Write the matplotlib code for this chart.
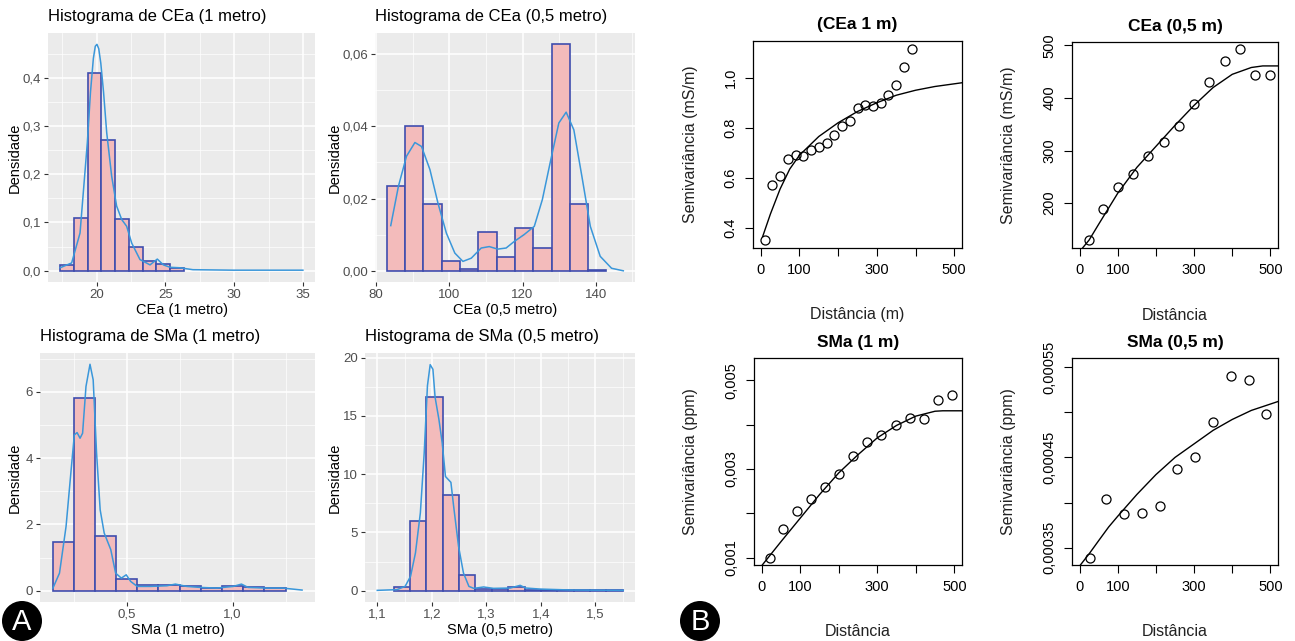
import numpy as np
import matplotlib
matplotlib.use("Agg")
import matplotlib.pyplot as plt
from matplotlib.patches import Circle
from matplotlib.transforms import IdentityTransform

plt.rcParams["font.family"] = ["Liberation Sans", "DejaVu Sans"]

# ---- histogram data (A) ----
cea1_edges = [17.35, 18.35, 19.35, 20.35, 21.35, 22.35, 23.35, 24.35, 25.35, 26.35]
cea1_heights = [0.011, 0.109, 0.409, 0.270, 0.108, 0.049, 0.020, 0.014, 0.006]
cea1_kde_x = [17.34, 18.18, 18.79, 19.32, 19.55, 19.76, 19.9, 20.02, 20.15, 20.3, 20.5,
              20.73, 21.09, 21.45, 21.82, 22.18, 22.55, 23.15, 23.88, 24.41, 24.85,
              25.33, 26.05, 27.0, 29.9, 35.0]
cea1_kde_y = [0.006, 0.016, 0.078, 0.265, 0.37, 0.44, 0.465, 0.469, 0.46, 0.43, 0.37,
              0.286, 0.196, 0.134, 0.106, 0.092, 0.057, 0.023, 0.012, 0.024, 0.012,
              0.007, 0.006, 0.002, 0.001, 0.001]

cea05_edges = [82.9, 87.9, 92.9, 97.9, 102.9, 107.9, 112.9, 117.9, 122.9, 127.9,
               132.9, 137.9, 142.9]
cea05_heights = [0.0235, 0.0401, 0.0186, 0.0026, 0.0006, 0.0108, 0.0039, 0.0119,
                 0.0063, 0.0627, 0.0186, 0.0002]
cea05_kde_x = [84.0, 86.1, 88.3, 90.6, 92.4, 94.7, 96.9, 99.2, 101.5, 103.7, 106.0,
               108.7, 110.9, 113.2, 115.5, 117.7, 120.4, 123.2, 125.4, 127.7, 129.9,
               131.9, 134.0, 136.2, 138.5, 141.2, 144.3, 147.5]
cea05_kde_y = [0.0125, 0.0234, 0.0317, 0.0355, 0.0344, 0.028, 0.0187, 0.0104, 0.0049,
               0.0026, 0.0035, 0.0063, 0.0067, 0.006, 0.0063, 0.0081, 0.010, 0.0123,
               0.0197, 0.0307, 0.0409, 0.0439, 0.039, 0.0261, 0.0123, 0.004, 0.0007, 0.0]

sma1_edges = [0.15, 0.25, 0.35, 0.45, 0.55, 0.65, 0.75, 0.85, 0.95, 1.05, 1.15, 1.25]
sma1_heights = [1.46, 5.80, 1.66, 0.36, 0.16, 0.18, 0.14, 0.09, 0.14, 0.11, 0.09]
sma1_kde_x = [0.152, 0.183, 0.214, 0.238, 0.253, 0.266, 0.280, 0.292, 0.308, 0.327,
              0.342, 0.358, 0.375, 0.394, 0.425, 0.448, 0.475, 0.498, 0.519, 0.55,
              0.613, 0.69, 0.73, 0.784, 0.847, 0.925, 1.003, 1.042, 1.073, 1.159,
              1.238, 1.328]
sma1_kde_y = [0.08, 0.53, 1.94, 3.65, 4.70, 4.77, 4.60, 4.75, 6.16, 6.83, 6.36, 4.15,
              2.44, 1.74, 1.24, 0.53, 0.38, 0.48, 0.28, 0.13, 0.13, 0.15, 0.20, 0.13,
              0.10, 0.08, 0.13, 0.20, 0.10, 0.08, 0.08, 0.02]

sma05_edges = [1.13, 1.16, 1.19, 1.22, 1.25, 1.28, 1.31, 1.34, 1.37, 1.40, 1.43,
               1.46, 1.49, 1.52, 1.55]
sma05_heights = [0.29, 5.96, 16.6, 8.19, 1.38, 0.14, 0.17, 0.29, 0.06, 0.05, 0.04,
                 0.03, 0.03, 0.03]
sma05_kde_x = [1.1, 1.136, 1.151, 1.161, 1.170, 1.179, 1.186, 1.192, 1.197, 1.202,
               1.206, 1.213, 1.219, 1.225, 1.231, 1.235, 1.240, 1.249, 1.258, 1.268,
               1.277, 1.295, 1.313, 1.344, 1.362, 1.372, 1.399, 1.454, 1.551]
sma05_kde_y = [0.03, 0.09, 0.37, 1.23, 3.24, 6.68, 11.8, 17.6, 19.4, 19.0, 16.6, 14.7,
               12.7, 9.8, 9.5, 9.3, 7.25, 3.81, 1.52, 0.37, 0.2, 0.32, 0.2, 0.23, 0.46,
               0.23, 0.14, 0.06, 0.03]

# ---- semivariogram data (B) ----
cea1_dist = [10, 30, 50, 70, 90, 110, 130, 150, 170, 190, 210, 230, 250, 270, 290,
             310, 330, 350, 370, 390]
cea1_gamma = [0.351, 0.573, 0.607, 0.677, 0.691, 0.688, 0.711, 0.724, 0.741, 0.771,
              0.807, 0.828, 0.880, 0.891, 0.888, 0.900, 0.933, 0.973, 1.044, 1.116]
cea1_fit_x = [5, 25, 50, 75, 100, 150, 200, 250, 300, 350, 400, 450, 520]
cea1_fit_y = [0.365, 0.455, 0.555, 0.635, 0.69, 0.765, 0.82, 0.865, 0.90, 0.93,
              0.95, 0.965, 0.98]

cea05_dist = [23.6, 60.3, 100.4, 139.7, 179, 220, 259.4, 300.4, 339.7, 380, 421,
              460.3, 499.6]
cea05_gamma = [130.5, 189.3, 230.3, 255.6, 289, 315.6, 346.6, 389.5, 430, 470.4,
               492.5, 443.2, 443.2]
cea05_fit_x = [8, 25, 50, 100, 150, 200, 250, 300, 350, 400, 450, 480, 521]
cea05_fit_y = [115, 130, 160, 219, 268, 308, 348, 386, 420, 445, 458, 461, 461]

sma1_dist = [22.6, 56.5, 92.2, 127.8, 164.3, 200.9, 237.4, 273.9, 310.4, 347.8,
             384.3, 420.9, 456.5, 493.9]
sma1_gamma = [0.00100, 0.00164, 0.00205, 0.00232, 0.00259, 0.00289, 0.00328, 0.00360,
              0.00377, 0.00398, 0.00414, 0.00413, 0.00456, 0.00466]
sma1_fit_x = [2, 50, 100, 150, 200, 250, 300, 350, 400, 450, 470, 521]
sma1_fit_y = [0.00084, 0.00136, 0.00189, 0.00242, 0.00291, 0.00332, 0.00370, 0.00398,
              0.00419, 0.00430, 0.00431, 0.00431]

sma05_dist = [26.2, 69.9, 117, 163.3, 209.6, 255.9, 301.3, 349.3, 396.5, 442.8, 489]
sma05_gamma = [0.000339, 0.000404, 0.000387, 0.000389, 0.000396, 0.000437, 0.000450,
               0.000489, 0.000540, 0.000536, 0.000498]
sma05_fit_x = [2, 26, 50, 76, 100, 150, 200, 250, 300, 350, 400, 450, 521]
sma05_fit_y = [0.000331, 0.000344, 0.000358, 0.000373, 0.000385, 0.000409, 0.000431,
               0.000450, 0.000465, 0.000480, 0.000492, 0.000502, 0.000512]

W, H = 1295, 641
fig = plt.figure(figsize=(W / 100, H / 100), dpi=100)

FILL = "#F3BBBB"
EDGE = "#3F4DAE"
KDE = "#3A97DA"


def axes_px(l, t, r, b):
    return fig.add_axes([l / W, 1 - b / H, (r - l) / W, (b - t) / H])


def text_px(x, y, s, **kw):
    fig.text(x / W, 1 - y / H, s, **kw)


def comma(vals, nd):
    return [f"{v:.{nd}f}".replace(".", ",") for v in vals]


def hist_panel(box, edges, heights, kde_x, kde_y, xlim, ylim, xmaj, xmin, xlab,
               ymaj, ymin, ylab, title, xlabel):
    l, t, r, b = box
    ax = axes_px(l, t, r, b)
    ax.set_facecolor("#EBEBEB")
    for s in ax.spines.values():
        s.set_visible(False)
    ax.set_xlim(*xlim)
    ax.set_ylim(*ylim)
    ax.set_xticks(xmaj)
    ax.set_xticklabels(xlab)
    ax.set_xticks(xmin, minor=True)
    ax.set_yticks(ymaj)
    ax.set_yticklabels(ylab)
    ax.set_yticks(ymin, minor=True)
    ax.grid(which="major", color="white", lw=1.1)
    ax.grid(which="minor", color="white", lw=0.5)
    ax.set_axisbelow(True)
    ax.tick_params(which="minor", length=0)
    ax.tick_params(which="major", length=3, width=0.8, color="#333333",
                   labelcolor="#4D4D4D", labelsize=9.5, pad=2)
    widths = np.diff(edges)
    ax.bar(edges[:-1], heights, width=widths, align="edge", color=FILL,
           edgecolor=EDGE, lw=1.2, zorder=2)
    ax.plot(kde_x, kde_y, color=KDE, lw=1.1, zorder=3)
    text_px(l, t - 16, title, fontsize=12, ha="left", va="center")
    text_px((l + r) / 2, b + 28, xlabel, fontsize=10.5, ha="center", va="center")
    text_px(15 if l < 200 else 335, (t + b) / 2, "Densidade", fontsize=10.5,
            rotation=90, ha="center", va="center")
    return ax


hist_panel((48, 33, 315, 282), cea1_edges, cea1_heights, cea1_kde_x, cea1_kde_y,
           (16.46, 35.88), (-0.0235, 0.4925), [20, 25, 30, 35], [17.5, 22.5, 27.5, 32.5],
           ["20", "25", "30", "35"], [0, 0.1, 0.2, 0.3, 0.4], [0.05, 0.15, 0.25, 0.35, 0.45],
           comma([0, 0.1, 0.2, 0.3, 0.4], 1), "Histograma de CEa (1 metro)", "CEa (1 metro)")

hist_panel((375, 33, 635, 282), cea05_edges, cea05_heights, cea05_kde_x, cea05_kde_y,
           (79.7, 150.7), (-0.0031, 0.0658), [80, 100, 120, 140], [90, 110, 130, 150],
           ["80", "100", "120", "140"], [0, 0.02, 0.04, 0.06], [0.01, 0.03, 0.05],
           comma([0, 0.02, 0.04, 0.06], 2), "Histograma de CEa (0,5 metro)", "CEa (0,5 metro)")

hist_panel((40, 353, 315, 602), sma1_edges, sma1_heights, sma1_kde_x, sma1_kde_y,
           (0.091, 1.389), (-0.34, 7.17), [0.5, 1.0], [0.25, 0.75, 1.25],
           comma([0.5, 1.0], 1), [0, 2, 4, 6], [1, 3, 5, 7],
           ["0", "2", "4", "6"], "Histograma de SMa (1 metro)", "SMa (1 metro)")

hist_panel((365, 353, 635, 602), sma05_edges, sma05_heights, sma05_kde_x, sma05_kde_y,
           (1.0775, 1.5725), (-0.97, 20.4), [1.1, 1.2, 1.3, 1.4, 1.5],
           [1.15, 1.25, 1.35, 1.45, 1.55], comma([1.1, 1.2, 1.3, 1.4, 1.5], 1),
           [0, 5, 10, 15, 20], [2.5, 7.5, 12.5, 17.5], ["0", "5", "10", "15", "20"],
           "Histograma de SMa (0,5 metro)", "SMa (0,5 metro)")


def vario_panel(box, dist, gamma, fit_x, fit_y, ylim, yticks, ylabels, title,
                xlabel, ylabel, ylab_x):
    l, t, r, b = box
    ax = axes_px(l, t, r, b)
    ax.plot(fit_x, fit_y, color="black", lw=1.0, zorder=2)
    ax.plot(dist, gamma, "o", mfc="none", mec="black", ms=6.5, mew=0.9, zorder=3)
    ax.set_xlim(-20, 520)
    ax.set_ylim(*ylim)
    ax.set_xticks([0, 100, 200, 300, 400, 500])
    ax.set_xticklabels(["0", "100", "", "300", "", "500"])
    ax.set_yticks(yticks)
    ax.set_yticklabels(ylabels)
    for s in ax.spines.values():
        s.set_linewidth(0.9)
    ax.tick_params(length=6, width=0.8, labelsize=10.5, color="black")
    ax.tick_params(axis="x", pad=5)
    ax.tick_params(axis="y", pad=5)
    for lab in ax.get_yticklabels():
        lab.set_rotation(90)
        lab.set_va("center")
    text_px((l + r) / 2, t - 16, title, fontsize=12.5, fontweight="bold",
            ha="center", va="center")
    text_px((l + r) / 2, b + 67, xlabel, fontsize=11.5, ha="center", va="center",
            color="#222222")
    text_px(ylab_x, (t + b) / 2, ylabel, fontsize=11.5, rotation=90, ha="center",
            va="center", color="#222222")
    return ax


vario_panel((753, 41, 962, 248), cea1_dist, cea1_gamma, cea1_fit_x, cea1_fit_y,
            (0.319, 1.147), [0.4, 0.6, 0.8, 1.0], ["0.4", "0.6", "0.8", "1.0"],
            "(CEa 1 m)", "Distância (m)", "Semivariância (mS/m)", 690)
vario_panel((1072, 42, 1278, 248), cea05_dist, cea05_gamma, cea05_fit_x, cea05_fit_y,
            (114.7, 506.5), [200, 300, 400, 500], ["200", "300", "400", "500"],
            "CEa (0,5 m)", "Distância", "Semivariância (mS/m)", 1008)
vario_panel((754, 358, 962, 565), sma1_dist, sma1_gamma, sma1_fit_x, sma1_fit_y,
            (0.000834, 0.0055), [0.001, 0.002, 0.003, 0.004, 0.005],
            ["0,001", "", "0,003", "", "0,005"],
            "SMa (1 m)", "Distância", "Semivariância (ppm)", 690)
vario_panel((1072, 358, 1278, 565), sma05_dist, sma05_gamma, sma05_fit_x, sma05_fit_y,
            (0.000331, 0.00056), [0.00035, 0.0004, 0.00045, 0.0005, 0.00055],
            ["0,00035", "", "0,00045", "", "0,00055"],
            "SMa (0,5 m)", "Distância", "Semivariância (ppm)", 1008)

# panel letters
for letter, cx, cy in [("A", 22, 621), ("B", 700, 621)]:
    fig.patches.append(Circle((cx, H - cy), 20, transform=IdentityTransform(),
                              facecolor="black", edgecolor="none", figure=fig))
    text_px(cx, cy + 1, letter, fontsize=21, color="white", ha="center", va="center")

fig.savefig("out.png", dpi=100)
